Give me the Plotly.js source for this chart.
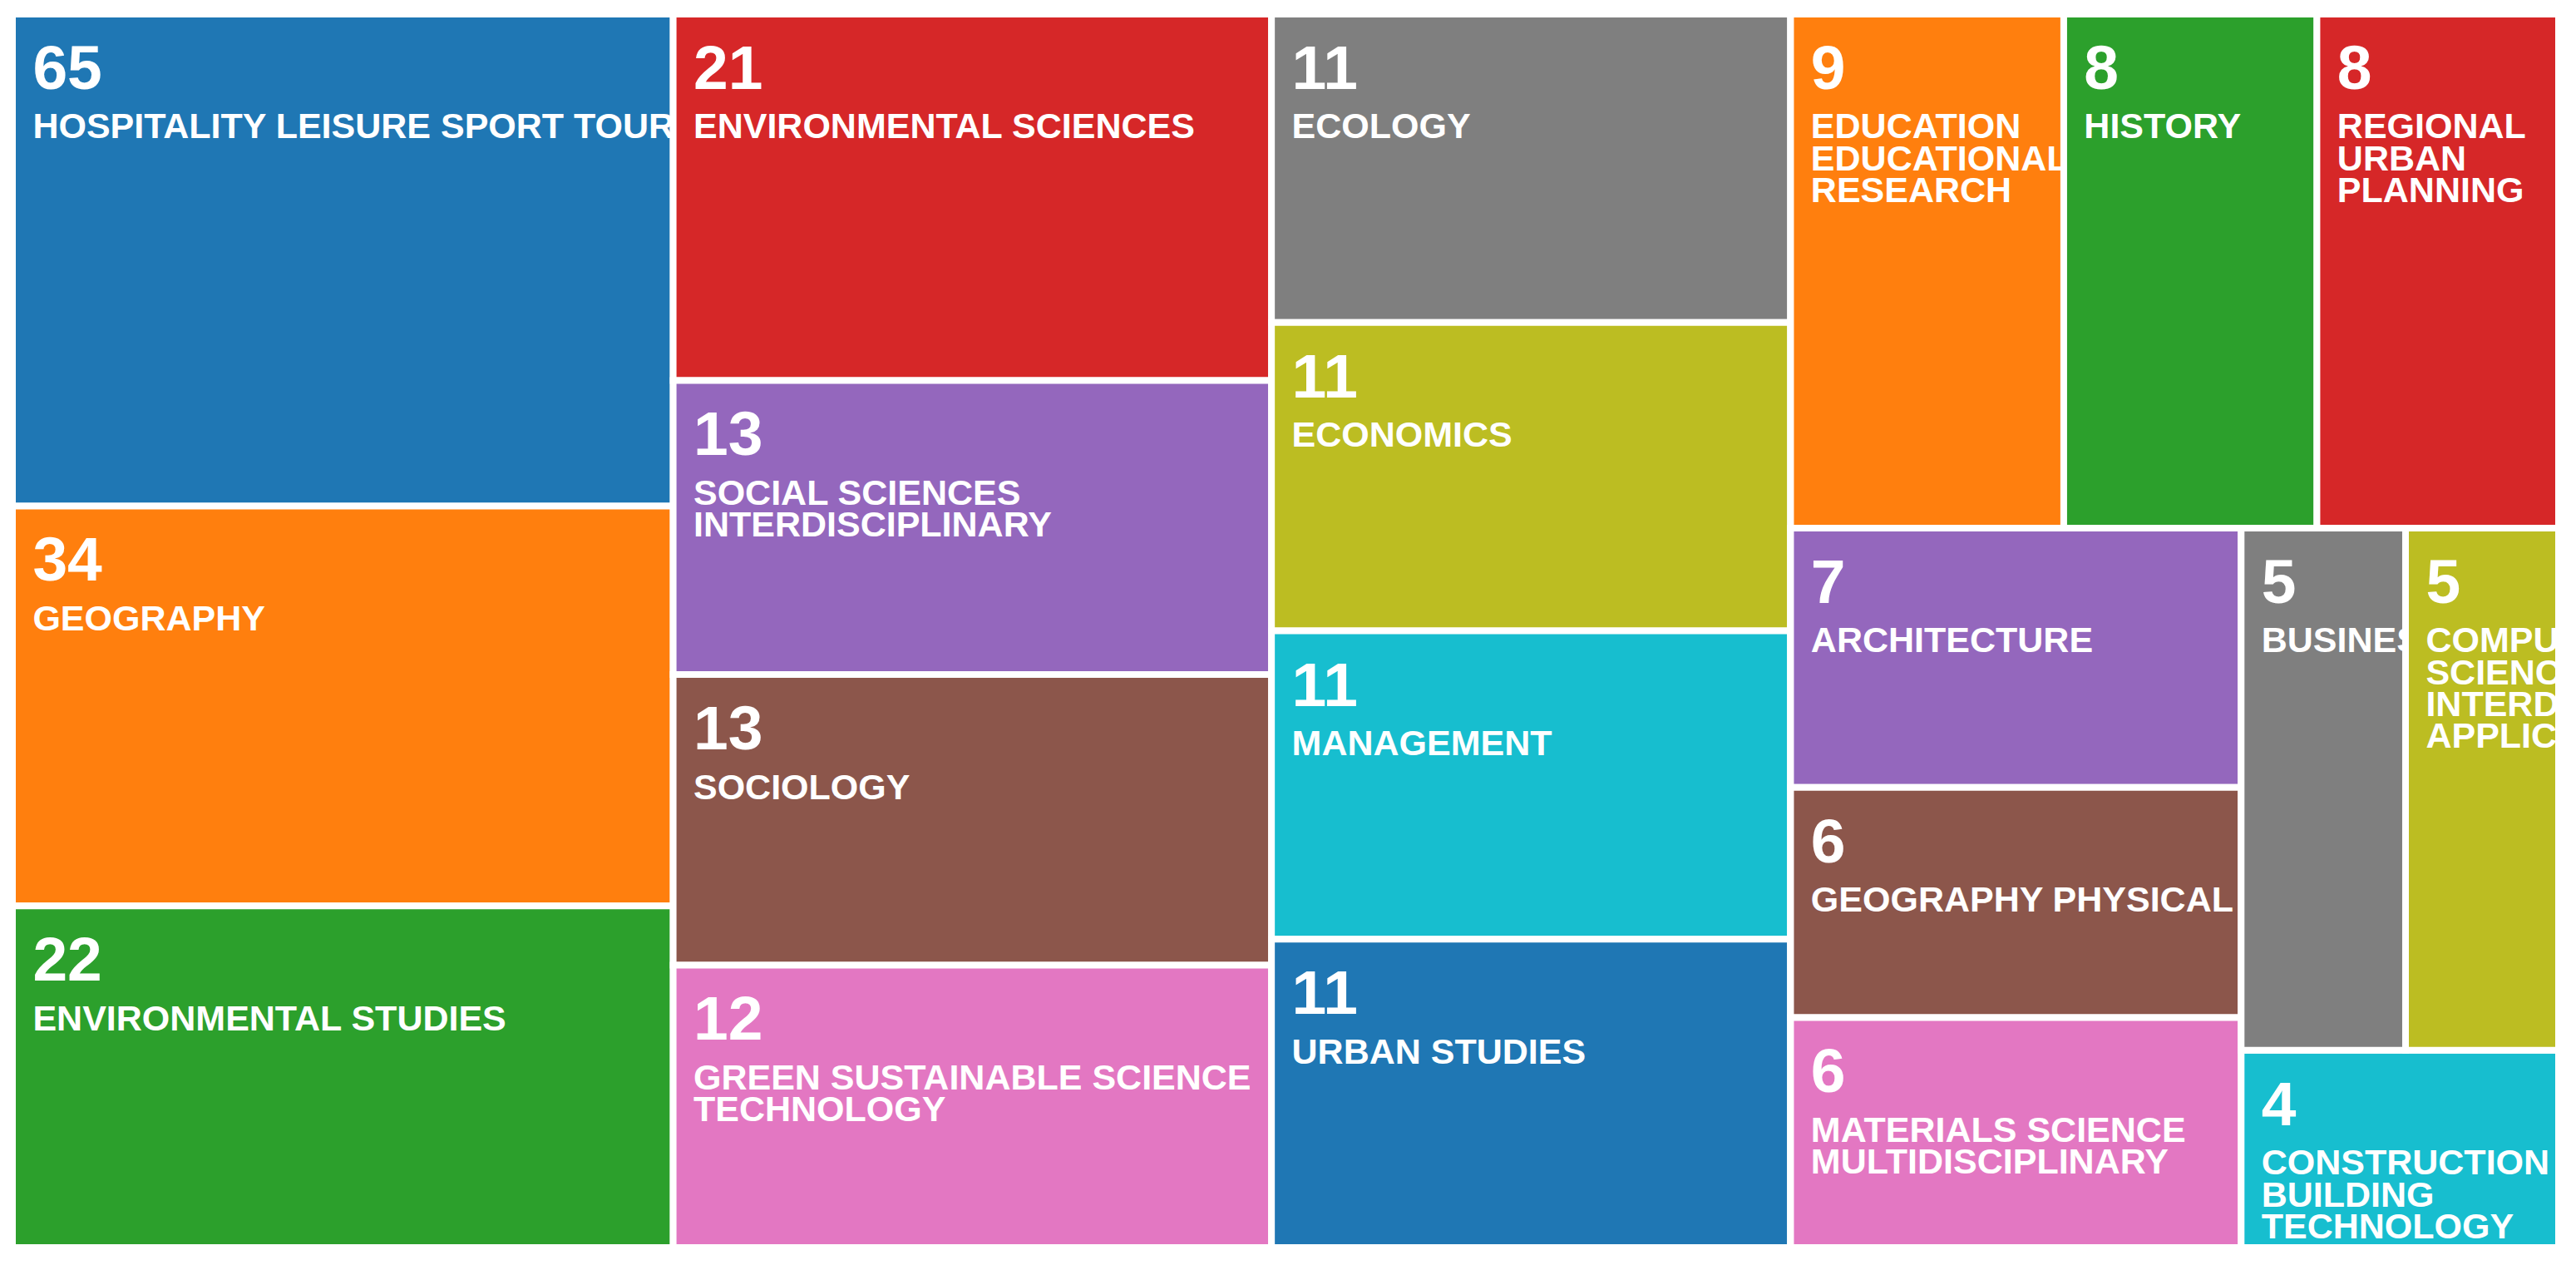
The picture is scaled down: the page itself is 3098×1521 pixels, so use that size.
<!DOCTYPE html>
<html>
<head>
<meta charset="utf-8">
<script src="https://cdn.plot.ly/plotly-3.0.1.min.js"></script>
<style>
  html, body { margin: 0; padding: 0; background: #fff; }
  #chart { width: 3098px; height: 1521px; }
</style>
</head>
<body>
<div id="chart"></div>
<script>
// subject categories, with the line breaks used on the tiles
const subjects = [
    'HOSPITALITY LEISURE SPORT TOURISM', 'GEOGRAPHY', 'ENVIRONMENTAL STUDIES',
    'ENVIRONMENTAL SCIENCES', 'SOCIAL SCIENCES\nINTERDISCIPLINARY', 'SOCIOLOGY',
    'GREEN SUSTAINABLE SCIENCE\nTECHNOLOGY',
    'ECOLOGY', 'ECONOMICS', 'MANAGEMENT', 'URBAN STUDIES',
    'EDUCATION\nEDUCATIONAL\nRESEARCH', 'HISTORY', 'REGIONAL\nURBAN\nPLANNING',
    'ARCHITECTURE', 'GEOGRAPHY PHYSICAL', 'MATERIALS SCIENCE\nMULTIDISCIPLINARY',
    'BUSINESS', 'COMPUTER\nSCIENCE\nINTERDISCIPLINARY\nAPPLICATIONS',
    'CONSTRUCTION\nBUILDING\nTECHNOLOGY'
];

// record counts printed on the tiles
const records = [65, 34, 22, 21, 13, 13, 12, 11, 11, 11, 11, 9, 8, 8, 7, 6, 6, 5, 5, 4];

// relative tile areas as drawn (the picture does not size tiles by count)
const tileArea = [1204, 979, 836, 812, 652, 644, 626, 593, 593, 593, 593,
                  520, 482, 460, 433, 384, 384, 318, 296, 232];

// block of the layout each tile belongs to
const tileBlock = ['c1', 'c1', 'c1', 'c2', 'c2', 'c2', 'c2', 'c3', 'c3', 'c3', 'c3',
                   'c4top', 'c4top', 'c4top', 'c4left', 'c4left', 'c4left',
                   'c4pair', 'c4pair', 'c4right'];

// nesting of the blocks (slice / dice alternate by depth)
const blocks = ['c1', 'c2', 'c3', 'c4', 'c4top', 'c4bottom', 'c4left', 'c4right', 'c4pair'];
const blockParents = ['', '', '', '', 'c4', 'c4', 'c4bottom', 'c4bottom', 'c4right'];

const palette = ['#1f77b4', '#ff7f0e', '#2ca02c', '#d62728', '#9467bd',
                 '#8c564b', '#e377c2', '#7f7f7f', '#bcbd22', '#17becf'];

const BASE = 29.5;   // line pitch is 1.3 x this

function spacer(px) {
    return '<span style="font-size:' + px + 'px">\u00a0</span>';
}

function tileText(count, name) {
    let s = spacer(77) + '<sup><sup><span style="font-size:75px">' + count + '</span>' +
            spacer(96) + '</sup></sup>';
    name.split('\n').forEach(line => {
        s += '<br>' + spacer(77) + '<span style="font-size:43px">' + line + '</span>';
    });
    return '<b>' + s + '</b>';
}

const ids = blocks.concat(subjects.map((s, i) => 'tile' + i));
const labels = blocks.concat(subjects.map(s => s.replace(/\n/g, ' ')));
const parents = blockParents.concat(tileBlock);
const values = blocks.map(() => 0).concat(tileArea);
const colors = blocks.map(() => '#ffffff').concat(subjects.map((s, i) => palette[i % palette.length]));
const texts = blocks.map(() => '').concat(subjects.map((s, i) => tileText(records[i], s)));

const font = { family: 'Liberation Sans, Arial, sans-serif', size: BASE, color: '#ffffff' };

Plotly.newPlot('chart', [{
    type: 'treemap',
    ids: ids,
    labels: labels,
    parents: parents,
    values: values,
    text: texts,
    branchvalues: 'remainder',
    sort: false,
    textinfo: 'text',
    textposition: 'top left',
    textfont: font,
    insidetextfont: font,
    marker: {
        colors: colors,
        line: { color: '#ffffff', width: 8 },
        pad: { t: 0, l: 0, r: 0, b: 0 },
        depthfade: false
    },
    leaf: { opacity: 1 },
    tiling: { packing: 'slice-dice', pad: 0 },
    pathbar: { visible: false },
    hoverinfo: 'skip'
}], {
    width: 3098,
    height: 1521,
    margin: { l: 15, r: 21, t: 17, b: 21 },
    paper_bgcolor: '#ffffff',
    uniformtext: { mode: 'show', minsize: BASE }
}, { displayModeBar: false, staticPlot: true });
</script>
</body>
</html>
